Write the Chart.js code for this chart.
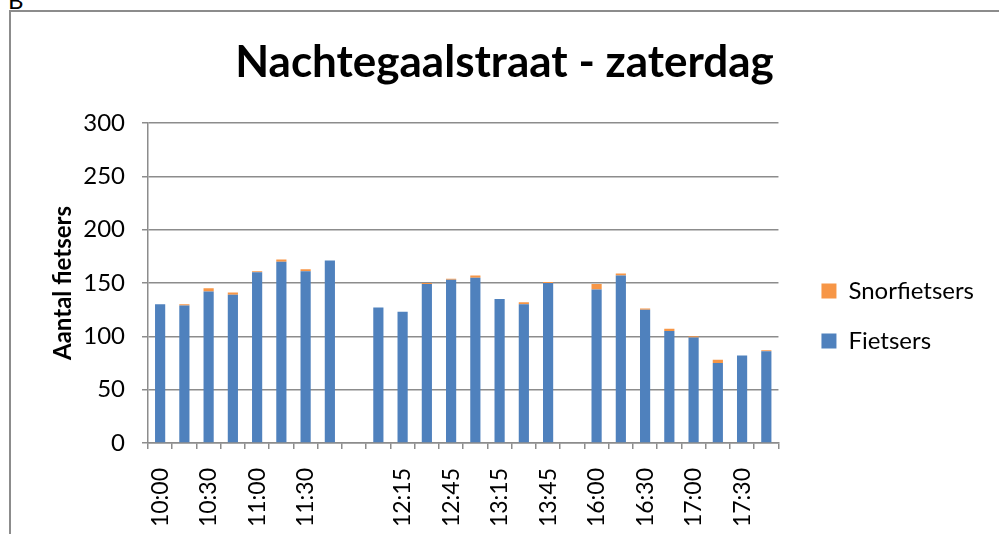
<!DOCTYPE html>
<html>
<head>
<meta charset="utf-8">
<script src="https://cdn.jsdelivr.net/npm/chart.js@4/dist/chart.umd.min.js"></script>
<style>
html, body { margin: 0; padding: 0; background: #fff; overflow: hidden; width: 999px; height: 534px; }
#frame { position: absolute; left: 9px; top: 10px; width: 1100px; height: 700px; border: 2px solid #8c8c8c; }
#wrap { position: absolute; left: 11px; top: 12px; width: 1000px; height: 608px; }
#corner { position: absolute; left: 8px; top: -15px; font: 24px Lato, sans-serif; color: #000; }
</style>
</head>
<body>
<div id="corner">B</div>
<div id="frame"></div>
<div id="wrap"><canvas id="myChart"></canvas></div>
<script>
// tijdvakken (lege plekken = pauze in de telling)
var tijden = ['10:00', '10:15', '10:30', '10:45', '11:00', '11:15', '11:30', '11:45', '',
    '12:00', '12:15', '12:30', '12:45', '13:00', '13:15', '13:30', '13:45', '',
    '16:00', '16:15', '16:30', '16:45', '17:00', '17:15', '17:30', '17:45'];
var fietsers = [130, 129, 142, 139, 160, 170, 161, 171, null,
    127, 123, 149, 153, 155, 135, 130, 150, null,
    144, 157, 125, 105, 99, 75, 82, 86];
var snorfietsers = [0, 1, 3, 2, 1, 2, 2, 0, null,
    0, 0, 1, 1, 2, 0, 2, 1, null,
    5, 2, 1, 2, 1, 3, 0, 1];
var yTicks = [0, 50, 100, 150, 200, 250, 300];

var grijs = '#8c8c8c';
var lettertype = 'Lato, sans-serif';

// titel iets naar rechts, boven het plotgebied zoals in Excel
var titelVerschuiving = {
    id: 'titelVerschuiving',
    afterLayout: function(chart) {
        if (chart.titleBlock) {
            chart.titleBlock.left += 7;
            chart.titleBlock.right += 7;
        }
    }
};

window.onload = function() {
    var ctx = document.getElementById('myChart').getContext('2d');
    var myChart = new Chart(ctx, {
        type: 'bar',
        data: {
            labels: tijden,
            datasets: [{
                label: 'Fietsers',
                data: fietsers,
                backgroundColor: '#4F81BD',
                borderWidth: 0
            }, {
                label: 'Snorfietsers',
                data: snorfietsers,
                backgroundColor: '#F79646',
                borderWidth: 0
            }]
        },
        plugins: [titelVerschuiving],
        options: {
            responsive: true,
            maintainAspectRatio: false,
            animation: false,
            events: [],
            datasets: {
                bar: { barPercentage: 0.42, categoryPercentage: 1 }
            },
            layout: {
                padding: { left: 0, right: 27, top: 0, bottom: 0 }
            },
            plugins: {
                title: {
                    display: true,
                    text: 'Nachtegaalstraat - zaterdag',
                    color: '#000',
                    font: { family: lettertype, size: 44, weight: 'bold' },
                    padding: { top: 24.8, bottom: 33.4 }
                },
                legend: {
                    position: 'right',
                    reverse: true,
                    maxWidth: 240,
                    labels: {
                        boxWidth: 15,
                        boxHeight: 15,
                        padding: 26,
                        color: '#000',
                        font: { family: lettertype, size: 24 }
                    }
                },
                tooltip: { enabled: false }
            },
            scales: {
                x: {
                    stacked: true,
                    afterFit: function(scale) { scale.height = 177; },
                    grid: {
                        drawOnChartArea: false,
                        drawTicks: true,
                        tickLength: 6,
                        color: grijs,
                        lineWidth: 1.5
                    },
                    border: { color: grijs, width: 1.5 },
                    ticks: {
                        autoSkip: false,
                        minRotation: 90,
                        maxRotation: 90,
                        padding: 19,
                        color: '#000',
                        font: { family: lettertype, size: 23 },
                        callback: function(val, i) {
                            return i % 2 === 0 ? tijden[i] : '';
                        }
                    }
                },
                y: {
                    stacked: true,
                    min: 0,
                    max: 300,
                    afterBuildTicks: function(scale) {
                        scale.ticks = yTicks.map(function(v) { return { value: v }; });
                    },
                    afterFit: function(scale) { scale.width = 137; },
                    grid: {
                        tickLength: 6,
                        color: grijs,
                        lineWidth: 1.5
                    },
                    border: { color: grijs, width: 1.5 },
                    ticks: {
                        padding: 17,
                        color: '#000',
                        font: { family: lettertype, size: 24 }
                    },
                    title: {
                        display: true,
                        text: 'Aantal fietsers',
                        color: '#000',
                        font: { family: lettertype, size: 24, weight: 'bold' },
                        padding: { top: 37.6, bottom: 8 }
                    }
                },
                // lege ruimte tussen grafiek en legenda
                ruimte: {
                    type: 'linear',
                    position: 'right',
                    display: true,
                    grid: { display: false },
                    border: { display: false },
                    ticks: { display: false },
                    afterFit: function(scale) { scale.width = 17; }
                }
            }
        }
    });
};
</script>
</body>
</html>
